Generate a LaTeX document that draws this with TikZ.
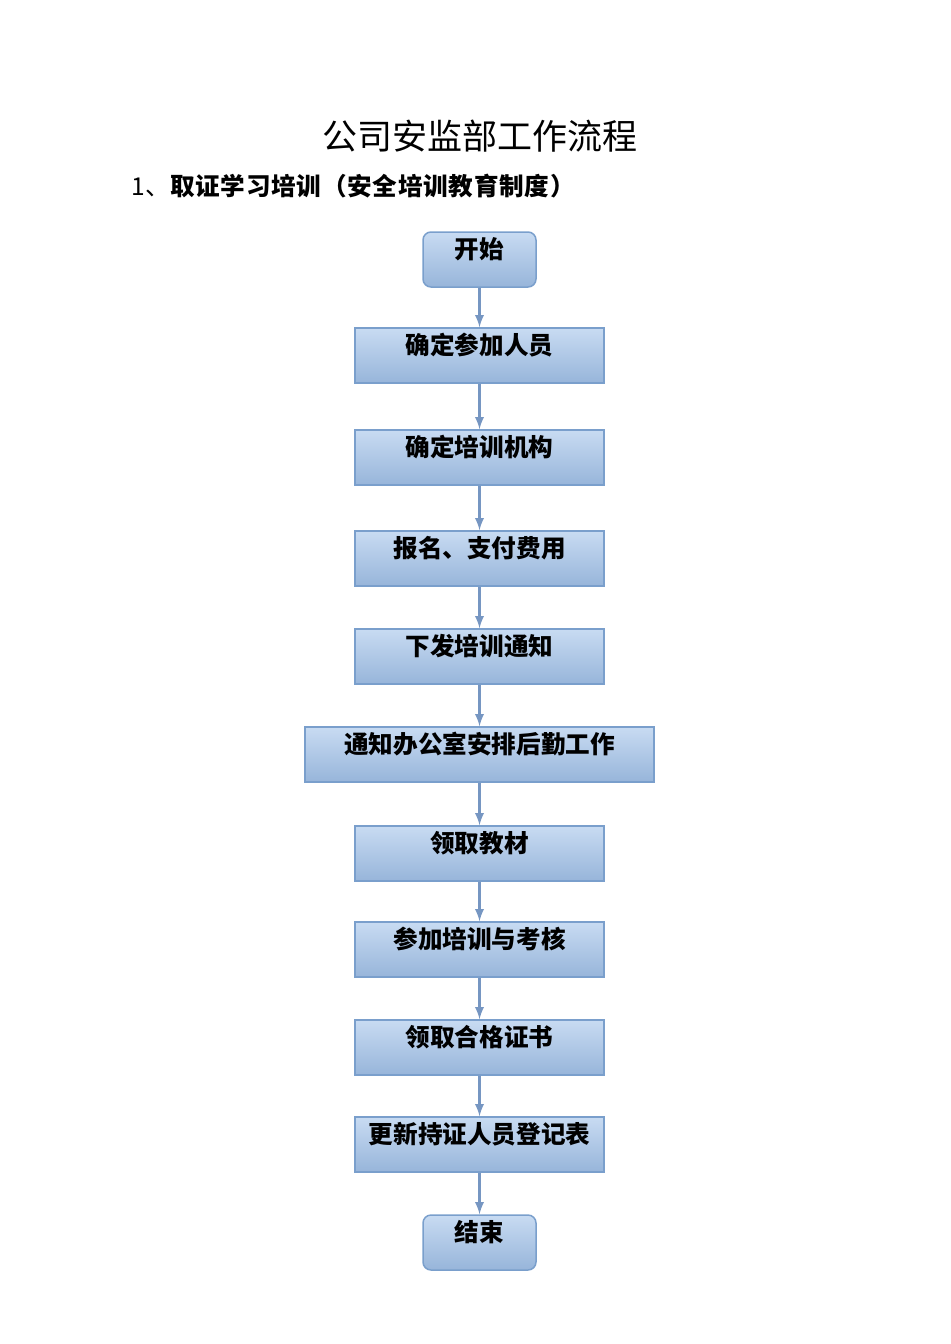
\documentclass[tikz,border=0pt]{standalone}
\usepackage{fontspec}
\setmainfont{Noto Sans CJK SC}
\usetikzlibrary{arrows}

\definecolor{boxtop}{HTML}{C8DBF2}
\definecolor{boxbottom}{HTML}{97B5DA}
\definecolor{boxline}{HTML}{7A9FCC}
\definecolor{flowline}{HTML}{7696C2}

\tikzset{flowbox/.style = {
    rectangle,
    draw = boxline,
    line width = 0.75pt,
    top color = boxtop,
    bottom color = boxbottom,
    minimum width = 124.5pt,
    minimum height = 27.5pt,
    inner sep = 0pt,
    text height = 8pt,
    text depth = 9.5pt,
    font = \fontsize{12.3}{14}\selectfont\bfseries
}}
\tikzset{endbox/.style = {
    flowbox,
    rounded corners = 4pt,
    minimum width = 56.5pt
}}
\tikzset{widebox/.style = {
    flowbox,
    minimum width = 174.5pt
}}
\tikzset{connector/.style = {
    ->,
    >= latex,
    flowline,
    line width = 1.1pt
}}

\begin{document}
\begin{tikzpicture}[x = 0.5pt, y = -0.5pt]
    \useasboundingbox
        (0, 0) rectangle (950, 1344)
    ;

    % Title
    \node (title) at (480, 136)
        {\fontsize{17.5}{20}\selectfont 公司安监部工作流程};
    \node [anchor = west] (heading) at (124, 186)
        {\fontsize{12.3}{14}\selectfont\addfontfeature{LetterSpace = 3}%
         1、\bfseries 取证学习培训（安全培训教育制度）};

    % Steps
    \node [endbox] (start) at (479.5, 259.5) {开始};
    \node [flowbox] (people) at (479.5, 355.5) {确定参加人员};
    \node [flowbox] (agency) at (479.5, 457.5) {确定培训机构};
    \node [flowbox] (signup) at (479.5, 558.5) {报名、支付费用};
    \node [flowbox] (notice) at (479.5, 656.5) {下发培训通知};
    \node [widebox] (office) at (479.5, 754.5) {通知办公室安排后勤工作};
    \node [flowbox] (books) at (479.5, 853.5) {领取教材};
    \node [flowbox] (exam) at (479.5, 949.5) {参加培训与考核};
    \node [flowbox] (cert) at (479.5, 1047.5) {领取合格证书};
    \node [flowbox] (record) at (479.5, 1144.5) {更新持证人员登记表};
    \node [endbox] (finish) at (479.5, 1242.5) {结束};

    % Arrows
    \foreach \a/\b in {start/people, people/agency, agency/signup,
                       signup/notice, notice/office, office/books,
                       books/exam, exam/cert, cert/record, record/finish}
        \draw [connector] (\a) -- (\b);

\end{tikzpicture}
\end{document}
